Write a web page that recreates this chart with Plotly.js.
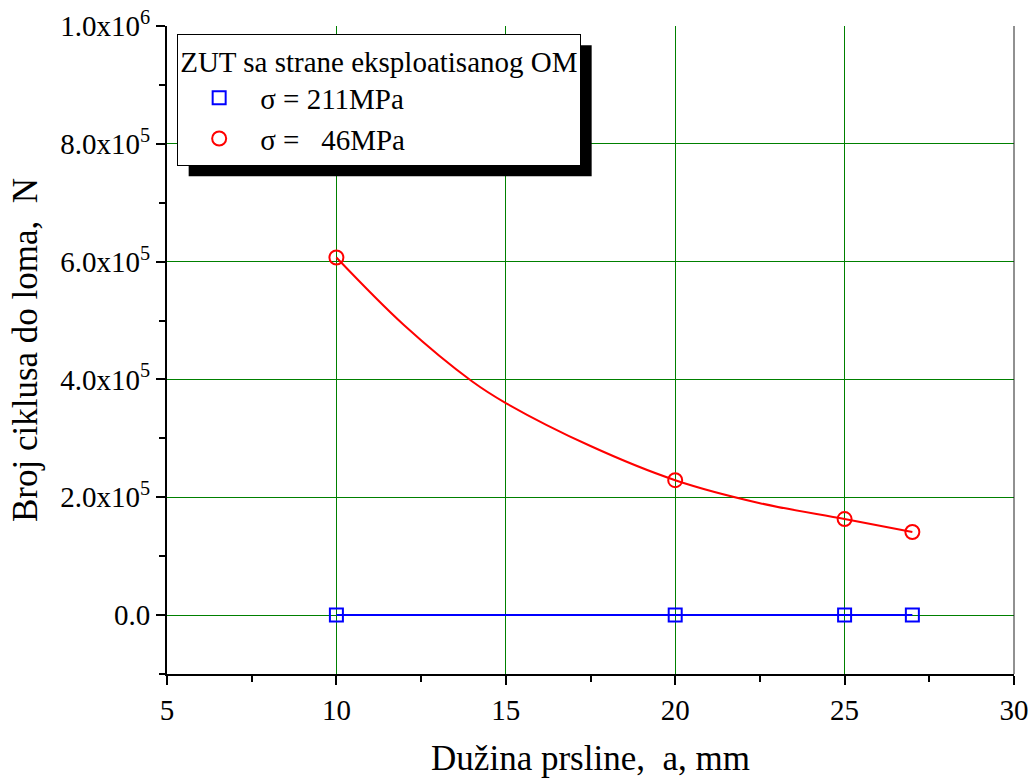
<!DOCTYPE html>
<html><head><meta charset="utf-8">
<script src="https://cdn.plot.ly/plotly-3.0.1.min.js"></script>
<style>html,body{margin:0;padding:0;background:#fff}#chart{width:1030px;height:778px}</style>
</head><body><div id="chart"></div>
<script>
const crackLength = [10, 20, 25, 27];
const cycles211 = [0, 0, 0, 0];
const cycles46 = [607000, 229000, 163000, 141000];
const curveX46 = [10, 12, 14, 15, 17.5, 20, 22.5, 25, 27];
const curveY46 = [607000, 492000, 397000, 360000, 287000, 229000, 190000, 163000, 141000];
const name211 = "σ = 211MPa";
const name46 = "σ =\u00a0\u00a0\u00a046MPa";
const legendTitle = "ZUT sa strane eksploatisanog OM";
const xTickVals = [5, 10, 15, 20, 25, 30];
const yTickVals = [0, 200000, 400000, 600000, 800000, 1000000];
const yTickText = ["0.0", "2.0x10<sup>5</sup>", "4.0x10<sup>5</sup>", "6.0x10<sup>5</sup>", "8.0x10<sup>5</sup>", "1.0x10<sup>6</sup>"];

const FONT = "Liberation Serif";
const GRID = '#008000';
const traces = [
  {x: crackLength, y: cycles211, mode: 'lines', line: {color: '#0000ff', width: 2}, showlegend: false, hoverinfo: 'skip'},
  {x: crackLength, y: cycles211, mode: 'markers', name: name211, marker: {symbol: 'square-open', size: 13, color: '#0000ff', line: {width: 2}}},
  {x: curveX46, y: curveY46, mode: 'lines', line: {color: '#ff0000', width: 2, shape: 'spline', smoothing: 1}, showlegend: false, hoverinfo: 'skip'},
  {x: crackLength, y: cycles46, mode: 'markers', name: name46, marker: {symbol: 'circle-open', size: 14, color: '#ff0000', line: {width: 2}}}
];
const layout = {
  width: 1030, height: 778,
  margin: {l: 167, r: 16, t: 26, b: 104},
  paper_bgcolor: '#fff', plot_bgcolor: '#fff',
  font: {family: FONT, size: 29, color: '#000'},
  showlegend: true,
  xaxis: {
    range: [5, 30], tickvals: xTickVals, ticks: 'outside', ticklen: 9, tickwidth: 2, tickcolor: '#000',
    showline: true, linecolor: '#000', linewidth: 2, zeroline: false,
    showgrid: true, gridcolor: GRID, gridwidth: 1,
    minor: {dtick: 2.5, ticks: 'outside', ticklen: 6, tickwidth: 2, tickcolor: '#000', showgrid: false},
    tickfont: {family: FONT, size: 29, color: '#000'},
    title: {text: 'Dužina prsline,\u00a0\u00a0a, mm', font: {family: FONT, size: 35, color: '#000'}, standoff: 22}
  },
  yaxis: {
    range: [-100000, 1000000], tickvals: yTickVals, ticktext: yTickText, ticks: 'outside', ticklen: 9, tickwidth: 2, tickcolor: '#000',
    showline: true, linecolor: '#000', linewidth: 2, zeroline: false,
    showgrid: true, gridcolor: GRID, gridwidth: 1,
    minor: {dtick: 100000, ticks: 'outside', ticklen: 6, tickwidth: 2, tickcolor: '#000', showgrid: false},
    tickfont: {family: FONT, size: 29, color: '#000'},
    title: {text: 'Broj ciklusa do loma,\u00a0\u00a0N', font: {family: FONT, size: 35, color: '#000'}, standoff: 12}
  },
  legend: {
    x: 0.012, y: 0.988, xanchor: 'left', yanchor: 'top',
    bgcolor: '#fff', bordercolor: '#000', borderwidth: 1,
    font: {family: FONT, size: 29, color: '#000'},
    title: {text: legendTitle, font: {family: FONT, size: 29, color: '#000'}},
    itemwidth: 72
  },
  shapes: [
    {type: 'line', xref: 'paper', yref: 'paper', x0: 1, x1: 1, y0: 0, y1: 1, line: {color: '#222', width: 1}}
  ]
};
Plotly.newPlot('chart', traces, layout, {displayModeBar: false, staticPlot: true}).then(gd => {
  const fl = gd._fullLayout;
  const bg = gd.querySelector('.legend .bg');
  if (!bg) return;
  const r = bg.getBoundingClientRect();
  const c = gd.getBoundingClientRect();
  const m = fl.margin;
  const pw = fl.width - m.l - m.r, ph = fl.height - m.t - m.b;
  const off = 11;
  const toX = px => (px - c.left - m.l) / pw;
  const toY = py => 1 - (py - c.top - m.t) / ph;
  const shadow = {type: 'rect', xref: 'paper', yref: 'paper', layer: 'above',
    x0: toX(r.left + off), x1: toX(r.right + off), y0: toY(r.bottom + off), y1: toY(r.top + off),
    fillcolor: '#000', line: {width: 0}};
  Plotly.relayout(gd, {shapes: layout.shapes.concat([shadow])});
});
</script></body></html>
